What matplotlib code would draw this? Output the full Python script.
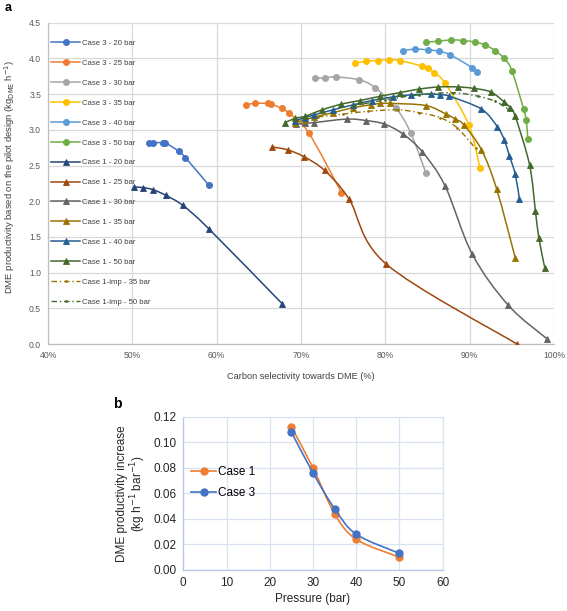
import matplotlib
matplotlib.use("Agg")
import matplotlib.pyplot as plt
from matplotlib.path import Path
from matplotlib.patches import PathPatch
from matplotlib.lines import Line2D
from matplotlib.ticker import FuncFormatter, MultipleLocator

plt.rcParams['font.family'] = ['Liberation Sans', 'DejaVu Sans']

# ---------------- data (panel a) ----------------
c3_20_x = [52.0, 52.5, 53.6, 53.9, 55.5, 56.3, 59.1]
c3_20_y = [2.81, 2.82, 2.82, 2.82, 2.70, 2.61, 2.22]
c3_25_x = [63.5, 64.5, 66.1, 66.5, 67.7, 68.6, 70.9, 74.8]
c3_25_y = [3.35, 3.37, 3.37, 3.36, 3.30, 3.23, 2.96, 2.12]
c3_30_x = [71.7, 72.9, 74.1, 76.9, 78.8, 81.3, 83.0, 84.8]
c3_30_y = [3.72, 3.73, 3.74, 3.70, 3.59, 3.30, 2.96, 2.40]
c3_35_x = [76.4, 77.7, 79.1, 80.4, 81.7, 84.4, 85.0, 85.8, 87.1, 89.9, 91.2]
c3_35_y = [3.93, 3.96, 3.97, 3.98, 3.97, 3.89, 3.86, 3.80, 3.65, 3.07, 2.47]
c3_40_x = [82.1, 83.5, 85.0, 86.4, 87.7, 90.3, 90.9]
c3_40_y = [4.11, 4.13, 4.12, 4.10, 4.05, 3.87, 3.81]
c3_50_x = [84.8, 86.3, 87.8, 89.2, 90.6, 91.8, 93.0, 94.1, 95.0, 96.4, 96.7, 96.9]
c3_50_y = [4.23, 4.24, 4.26, 4.25, 4.23, 4.19, 4.11, 4.00, 3.83, 3.29, 3.14, 2.87]

c1_20_x = [50.2, 51.3, 52.5, 54.0, 56.0, 59.1, 67.8]
c1_20_y = [2.20, 2.19, 2.16, 2.08, 1.94, 1.61, 0.56]
c1_25_x = [66.6, 68.4, 70.4, 72.8, 75.7, 80.1, 95.6]
c1_25_y = [2.76, 2.72, 2.62, 2.43, 2.03, 1.12, 0.0]
c1_30_x = [69.4, 70.5, 71.5, 75.4, 77.7, 79.9, 82.1, 84.4, 87.1, 90.3, 94.6, 99.2]
c1_30_y = [3.08, 3.09, 3.10, 3.15, 3.13, 3.08, 2.94, 2.69, 2.21, 1.26, 0.54, 0.07]
c1_35_x = [69.3, 70.5, 71.6, 73.8, 76.2, 78.3, 79.4, 80.6, 84.8, 87.2, 88.3, 89.3, 91.4, 93.2, 95.4]
c1_35_y = [3.10, 3.14, 3.18, 3.24, 3.31, 3.35, 3.37, 3.37, 3.34, 3.22, 3.15, 3.07, 2.72, 2.17, 1.21]
c1_40_x = [69.3, 70.5, 71.6, 73.8, 76.2, 78.4, 80.9, 83.0, 85.4, 86.5, 87.6, 91.4, 93.3, 94.1, 94.7, 95.4, 95.9]
c1_40_y = [3.13, 3.17, 3.21, 3.28, 3.35, 3.41, 3.46, 3.49, 3.50, 3.49, 3.47, 3.29, 3.04, 2.86, 2.64, 2.38, 2.03]
c1_50_x = [68.1, 69.3, 70.5, 72.5, 74.8, 77.0, 79.4, 81.7, 84.0, 86.3, 88.6, 90.5, 92.5, 94.1, 94.8, 95.4, 97.1, 97.8, 98.2, 98.9]
c1_50_y = [3.10, 3.16, 3.19, 3.28, 3.36, 3.41, 3.47, 3.52, 3.57, 3.60, 3.60, 3.58, 3.53, 3.39, 3.31, 3.19, 2.51, 1.86, 1.49, 1.07]
imp_35_x = [72.0, 75.0, 78.0, 81.5, 84.0, 86.5, 88.5, 90.7]
imp_35_y = [3.18, 3.22, 3.26, 3.28, 3.24, 3.17, 3.03, 2.74]
imp_50_x = [76.0, 80.0, 84.0, 88.0, 91.0, 93.0, 94.6]
imp_50_y = [3.33, 3.42, 3.49, 3.52, 3.47, 3.40, 3.29]

labels_a = ['Case 3 - 20 bar', 'Case 3 - 25 bar', 'Case 3 - 30 bar', 'Case 3 - 35 bar',
            'Case 3 - 40 bar', 'Case 3 - 50 bar', 'Case 1 - 20 bar', 'Case 1 - 25 bar',
            'Case 1 - 30 bar', 'Case 1 - 35 bar', 'Case 1 - 40 bar', 'Case 1 - 50 bar',
            'Case 1-imp - 35 bar', 'Case 1-imp - 50 bar']

# ---------------- data (panel b) ----------------
pressure = [25, 30, 35, 40, 50]
case1_inc = [0.112, 0.080, 0.044, 0.024, 0.010]
case3_inc = [0.108, 0.076, 0.048, 0.028, 0.013]


def smooth_path(xs, ys):
    """Excel-like smoothed line as cubic Bezier segments through the points."""
    pts = list(zip(xs, ys))
    n = len(pts)
    verts = [pts[0]]
    codes = [Path.MOVETO]
    for i in range(n - 1):
        p0 = pts[i - 1] if i > 0 else pts[i]
        p1 = pts[i]
        p2 = pts[i + 1]
        p3 = pts[i + 2] if i + 2 < n else pts[i + 1]
        c1 = (p1[0] + (p2[0] - p0[0]) / 6.0, p1[1] + (p2[1] - p0[1]) / 6.0)
        c2 = (p2[0] - (p3[0] - p1[0]) / 6.0, p2[1] - (p3[1] - p1[1]) / 6.0)
        verts += [c1, c2, p2]
        codes += [Path.CURVE4] * 3
    return Path(verts, codes)


fig = plt.figure(figsize=(5.67, 6.11), dpi=100)

# ---------------- panel a ----------------
ax = fig.add_axes([48 / 567, 1 - 344 / 611, 506 / 567, 321.3 / 611])
grid_c = '#d9d9d9'
series = [
    (c3_20_x, c3_20_y, '#4472C4', 'o', '-'),
    (c3_25_x, c3_25_y, '#ED7D31', 'o', '-'),
    (c3_30_x, c3_30_y, '#A5A5A5', 'o', '-'),
    (c3_35_x, c3_35_y, '#FFC000', 'o', '-'),
    (c3_40_x, c3_40_y, '#5B9BD5', 'o', '-'),
    (c3_50_x, c3_50_y, '#70AD47', 'o', '-'),
    (c1_20_x, c1_20_y, '#264478', '^', '-'),
    (c1_25_x, c1_25_y, '#9E480E', '^', '-'),
    (c1_30_x, c1_30_y, '#636363', '^', '-'),
    (c1_35_x, c1_35_y, '#997300', '^', '-'),
    (c1_40_x, c1_40_y, '#255E91', '^', '-'),
    (c1_50_x, c1_50_y, '#43682B', '^', '-'),
    (imp_35_x, imp_35_y, '#997300', '.', (0, (4, 2, 1, 2))),
    (imp_50_x, imp_50_y, '#43682B', '.', (0, (4, 2, 1, 2))),
]
handles = []
for k, (xs, ys, col, mk, ls) in enumerate(series):
    z = 3 + k * 0.1
    imp = mk == '.'
    lw = 1.1 if not imp else 1.0
    patch = PathPatch(smooth_path(xs, ys), fill=False, edgecolor=col, lw=lw,
                      linestyle=ls, zorder=z)
    ax.add_patch(patch)
    ms = 4.4 if mk == 'o' else 4.2
    if imp:
        ms = 2.5
    ax.plot(xs, ys, linestyle='none', marker=mk, color=col, ms=ms, zorder=z + 0.05,
            markeredgewidth=0.6)
    handles.append(Line2D([0], [0], color=col, lw=lw, linestyle=ls, marker=mk,
                          ms=ms, markeredgewidth=0.6))

ax.set_xlim(40, 100)
ax.set_ylim(0, 4.5)
ax.xaxis.set_major_locator(MultipleLocator(10))
ax.yaxis.set_major_locator(MultipleLocator(0.5))
ax.xaxis.set_major_formatter(FuncFormatter(lambda v, p: f"{v:.0f}%"))
ax.yaxis.set_major_formatter(FuncFormatter(lambda v, p: f"{v:.1f}"))
ax.grid(True, color=grid_c, lw=0.9)
ax.set_axisbelow(True)
for s in ['top', 'right']:
    ax.spines[s].set_visible(False)
for s in ['left', 'bottom']:
    ax.spines[s].set_color('#bfbfbf')
    ax.spines[s].set_linewidth(0.9)
ax.tick_params(length=0, labelsize=6.2, colors='#595959', pad=5)
ax.set_xlabel('Carbon selectivity towards DME (%)', fontsize=6.6, color='#404040', labelpad=9)
ax.set_ylabel('DME productivity based on the pilot design (kg$_{\\mathrm{DME}}$ h$^{-1}$)',
              fontsize=6.8, color='#404040', labelpad=8)
ax.yaxis.set_label_coords(-0.062, 0.52)
leg = ax.legend(handles, labels_a, loc='upper left', bbox_to_anchor=(0.0, 0.957),
                frameon=False, fontsize=5.6, handlelength=3.7, labelspacing=1.6,
                handletextpad=0.25, borderaxespad=0.0)
for t in leg.get_texts():
    t.set_color('#404040')
fig.text(5 / 567, 1 - 8 / 611, 'a', fontsize=9, fontweight='bold', va='center', ha='left')

# ---------------- panel b ----------------
bx = fig.add_axes([183.3 / 567, 1 - 570 / 611, 259.4 / 567, 153.3 / 611])
pth1 = PathPatch(smooth_path(pressure, case1_inc), fill=False, edgecolor='#ED7D31', lw=1.2, zorder=3)
bx.add_patch(pth1)
bx.plot(pressure, case1_inc, linestyle='none', marker='o', color='#ED7D31', ms=5, zorder=3.1)
pth3 = PathPatch(smooth_path(pressure, case3_inc), fill=False, edgecolor='#4472C4', lw=1.2, zorder=4)
bx.add_patch(pth3)
bx.plot(pressure, case3_inc, linestyle='none', marker='o', color='#4472C4', ms=5, zorder=4.1)
hb = [Line2D([0], [0], color='#ED7D31', lw=1.2, marker='o', ms=5),
      Line2D([0], [0], color='#4472C4', lw=1.2, marker='o', ms=5)]
bx.set_xlim(0, 60)
bx.set_ylim(0, 0.12)
bx.xaxis.set_major_locator(MultipleLocator(10))
bx.yaxis.set_major_locator(MultipleLocator(0.02))
bx.yaxis.set_major_formatter(FuncFormatter(lambda v, p: f"{v:.2f}"))
bx.grid(True, color='#d9e1f2', lw=0.9)
bx.set_axisbelow(True)
for s in bx.spines.values():
    s.set_color('#d9e1f2')
    s.set_linewidth(0.9)
bx.spines['left'].set_color('#b4c7e7')
bx.spines['bottom'].set_color('#b4c7e7')
bx.tick_params(length=0, labelsize=8.5, colors='#262626', pad=5)
bx.set_xlabel('Pressure (bar)', fontsize=8.5, color='#262626', labelpad=3)
bx.set_ylabel('DME productivity increase\n(kg h$^{-1}$ bar$^{-1}$)', fontsize=8.5,
              color='#262626', labelpad=4, linespacing=1.0)
bleg = bx.legend(hb, ['Case 1', 'Case 3'], loc='center left', bbox_to_anchor=(-0.01, 0.57),
                 frameon=False, fontsize=8.5, handlelength=2.1, handletextpad=0.2,
                 labelspacing=0.75)
fig.text(113 / 567, 1 - 404 / 611, 'b', fontsize=10, fontweight='bold', va='center', ha='left')

fig.savefig('out.png', dpi=100)
